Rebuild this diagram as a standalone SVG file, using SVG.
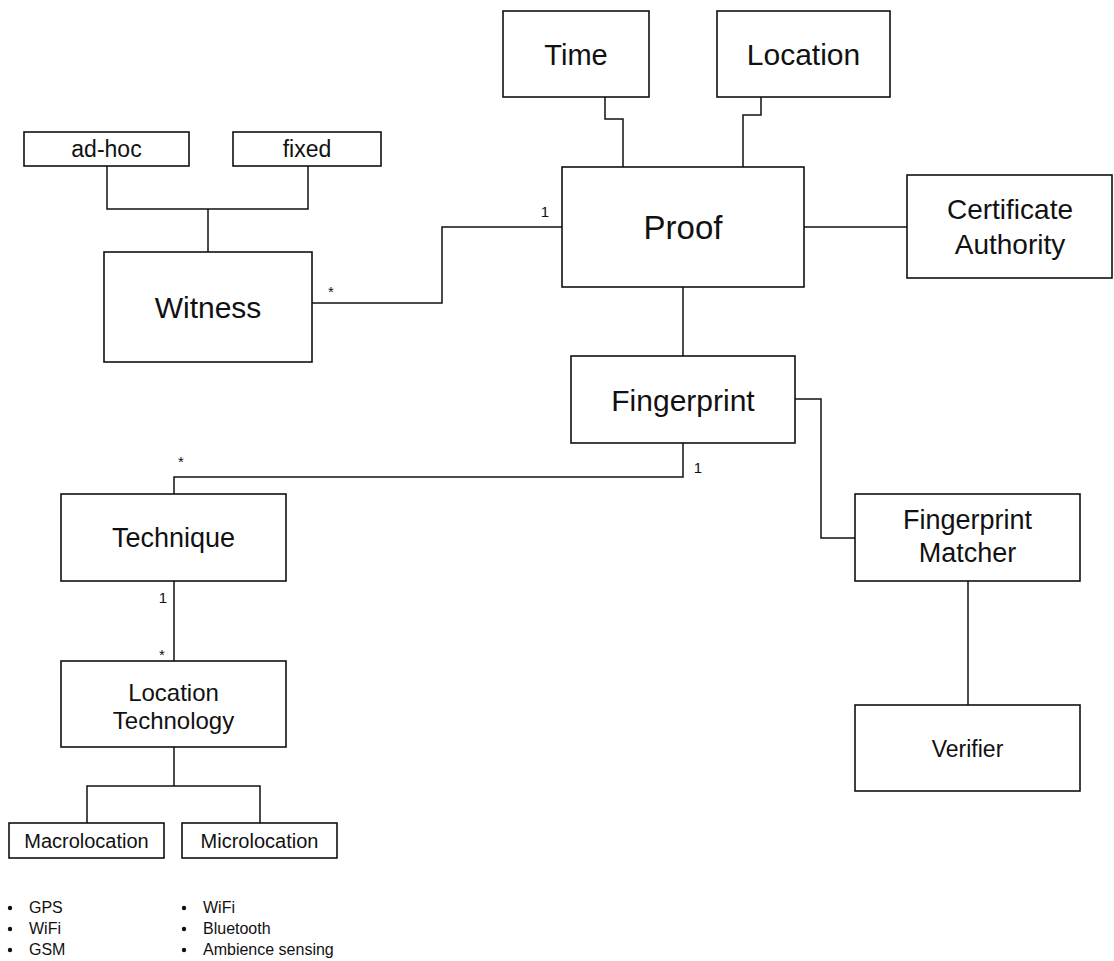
<svg xmlns="http://www.w3.org/2000/svg" width="1114" height="961" viewBox="0 0 1114 961">
<style>
.box{fill:#fff;stroke:#111;stroke-width:1.6}
.c{fill:none;stroke:#111;stroke-width:1.5}
text{font-family:"Liberation Sans",Arial,sans-serif;fill:#111;text-anchor:middle}
.lbl{font-size:15px}
.li{font-size:16px;text-anchor:start}
</style>
<rect width="1114" height="961" fill="#fff"/>
<g id="connectors">
<path class="c" d="M605 97V119H623V167"/>
<path class="c" d="M761 97V115H743V167"/>
<path class="c" d="M804 227H907"/>
<path class="c" d="M312 303H442V227H562"/>
<path class="c" d="M107 166V209H308V166M208 209V252"/>
<path class="c" d="M683 287V356"/>
<path class="c" d="M683 443V477H174V494"/>
<path class="c" d="M795 399H821V538H855"/>
<path class="c" d="M968 581V705"/>
<path class="c" d="M174 581V661"/>
<path class="c" d="M174 747V786M87 823V786H260V823"/>
<text class="lbl" x="545" y="217">1</text>
<text class="lbl" x="331" y="297">*</text>
<text class="lbl" x="181" y="467">*</text>
<text class="lbl" x="698" y="473">1</text>
<text class="lbl" x="163" y="603">1</text>
<text class="lbl" x="162" y="660">*</text>
</g>
<g id="time"><rect class="box" x="503" y="11" width="146" height="86"/><text x="576" y="65" font-size="29">Time</text></g>
<g id="location"><rect class="box" x="717" y="11" width="173" height="86"/><text x="803.5" y="65" font-size="30">Location</text></g>
<g id="proof"><rect class="box" x="562" y="167" width="242" height="120"/><text x="683" y="239" font-size="33">Proof</text></g>
<g id="ca"><rect class="box" x="907" y="175" width="205" height="103"/><text x="1010" y="219" font-size="28">Certificate</text><text x="1010" y="254" font-size="28">Authority</text></g>
<g id="adhoc"><rect class="box" x="24" y="132" width="165" height="34"/><text x="106.5" y="157" font-size="23">ad-hoc</text></g>
<g id="fixed"><rect class="box" x="233" y="132" width="148" height="34"/><text x="307" y="157" font-size="23">fixed</text></g>
<g id="witness"><rect class="box" x="104" y="252" width="208" height="110"/><text x="208" y="318" font-size="30">Witness</text></g>
<g id="fingerprint"><rect class="box" x="571" y="356" width="224" height="87"/><text x="683" y="411" font-size="30">Fingerprint</text></g>
<g id="matcher"><rect class="box" x="855" y="494" width="225" height="87"/><text x="967.5" y="529" font-size="27">Fingerprint</text><text x="967.5" y="562" font-size="27">Matcher</text></g>
<g id="verifier"><rect class="box" x="855" y="705" width="225" height="86"/><text x="967.5" y="757" font-size="23">Verifier</text></g>
<g id="technique"><rect class="box" x="61" y="494" width="225" height="87"/><text x="173.5" y="547" font-size="27">Technique</text></g>
<g id="loctech"><rect class="box" x="61" y="661" width="225" height="86"/><text x="173.5" y="701" font-size="24">Location</text><text x="173.5" y="729" font-size="24">Technology</text></g>
<g id="macro"><rect class="box" x="9" y="823" width="155" height="35"/><text x="86.5" y="848" font-size="20">Macrolocation</text></g>
<g id="micro"><rect class="box" x="182" y="823" width="155" height="35"/><text x="259.5" y="848" font-size="20">Microlocation</text></g>
<g id="lists">
<circle cx="10" cy="908" r="2.2" fill="#111"/><text class="li" x="29" y="913">GPS</text>
<circle cx="10" cy="929" r="2.2" fill="#111"/><text class="li" x="29" y="934">WiFi</text>
<circle cx="10" cy="950" r="2.2" fill="#111"/><text class="li" x="29" y="955">GSM</text>
<circle cx="184" cy="908" r="2.2" fill="#111"/><text class="li" x="203" y="913">WiFi</text>
<circle cx="184" cy="929" r="2.2" fill="#111"/><text class="li" x="203" y="934">Bluetooth</text>
<circle cx="184" cy="950" r="2.2" fill="#111"/><text class="li" x="203" y="955">Ambience sensing</text>
</g>
</svg>
